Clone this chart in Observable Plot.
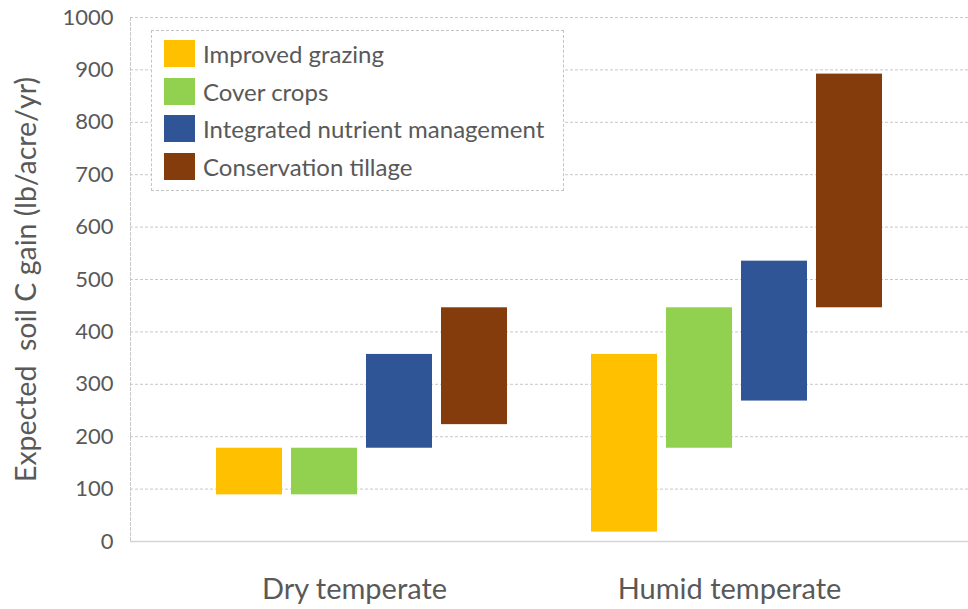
<!DOCTYPE html>
<html><head><meta charset="utf-8">
<script src="https://cdn.jsdelivr.net/npm/d3@7"></script>
<script src="https://cdn.jsdelivr.net/npm/@observablehq/plot@0.6"></script>
<style>
body{margin:0;background:#fff;}
#wrap{position:relative;width:968px;height:609px;font-family:Lato, sans-serif;}
#legend{position:absolute;left:151px;top:30px;width:413px;height:161px;border:1px dashed #c4c4c4;background:#fff;box-sizing:border-box;}
.row{position:absolute;left:12px;display:flex;align-items:center;height:27px;}
.sw{width:31px;height:27px;margin-right:8px;flex:none;}
.lab{font-size:24px;color:#595959;white-space:nowrap;}
</style></head><body><div id="wrap"></div>
<script>
const regions = ["Dry temperate", "Humid temperate"];
const practices = ["Improved grazing", "Cover crops", "Integrated nutrient management", "Conservation tillage"];
const colors = ["#FFC000", "#92D050", "#2F5597", "#843C0C"];
const lowDry = [89, 89, 178, 223];
const highDry = [178, 178, 357, 446];
const lowHumid = [18, 178, 268, 446];
const highHumid = [357, 446, 535, 892];
const yTicks = [0, 100, 200, 300, 400, 500, 600, 700, 800, 900, 1000];
const yTitle = "Expected  soil C gain (lb/acre/yr)";

const lows = [lowDry, lowHumid];
const highs = [highDry, highHumid];
const data = [];
regions.forEach((r, ri) => practices.forEach((p, pi) => {
  data.push({region: r, practice: p, key: r + "|" + p, low: lows[ri][pi], high: highs[ri][pi]});
}));
const xDomain = [...practices.map(p => regions[0] + "|" + p), " ", ...practices.map(p => regions[1] + "|" + p)];
const labelKeys = regions.map(r => r + "|" + practices[2]);

const plot = Plot.plot({
  width: 968, height: 609,
  marginLeft: 130, marginRight: 0, marginTop: 17, marginBottom: 68,
  x: {domain: xDomain, paddingInner: 0.116, paddingOuter: 1.086, align: 0.5},
  y: {domain: [0, 1000]},
  color: {domain: practices, range: colors},
  style: {fontFamily: "Lato, sans-serif", background: "#fff", color: "#595959", overflow: "visible"},
  marks: [
    Plot.ruleY(yTicks.filter(d => d > 0), {stroke: "#c8c8c8", strokeDasharray: "3,2"}),
    Plot.frame({anchor: "left", stroke: "#c8c8c8", strokeDasharray: "3,2"}),
    Plot.ruleY([0], {stroke: "#d4d4d4", strokeWidth: 1.5}),
    Plot.barY(data, {x: "key", y1: "low", y2: "high", fill: "practice"}),
    Plot.axisY({ticks: yTicks, tickFormat: d => String(d), tickSize: 0, tickPadding: 17, fontSize: 22, label: null}),
    Plot.axisX({ticks: labelKeys, tickFormat: k => k.split("|")[0], tickSize: 0, tickPadding: 37, dx: -45, fontSize: 29, label: null}),
    Plot.text([yTitle], {frameAnchor: "left", rotate: -90, textAnchor: "middle", dx: -104, fontSize: 28.5, fill: "#595959"})
  ]
});
const wrap = document.getElementById("wrap");
wrap.appendChild(plot);
const leg = document.createElement("div");
leg.id = "legend";
practices.forEach((p, i) => {
  const row = document.createElement("div");
  row.className = "row";
  row.style.top = (9 + i * 37.7) + "px";
  const sw = document.createElement("div");
  sw.className = "sw";
  sw.style.background = colors[i];
  const lab = document.createElement("span");
  lab.className = "lab";
  lab.textContent = p;
  row.appendChild(sw); row.appendChild(lab);
  leg.appendChild(row);
});
wrap.appendChild(leg);
</script></body></html>
